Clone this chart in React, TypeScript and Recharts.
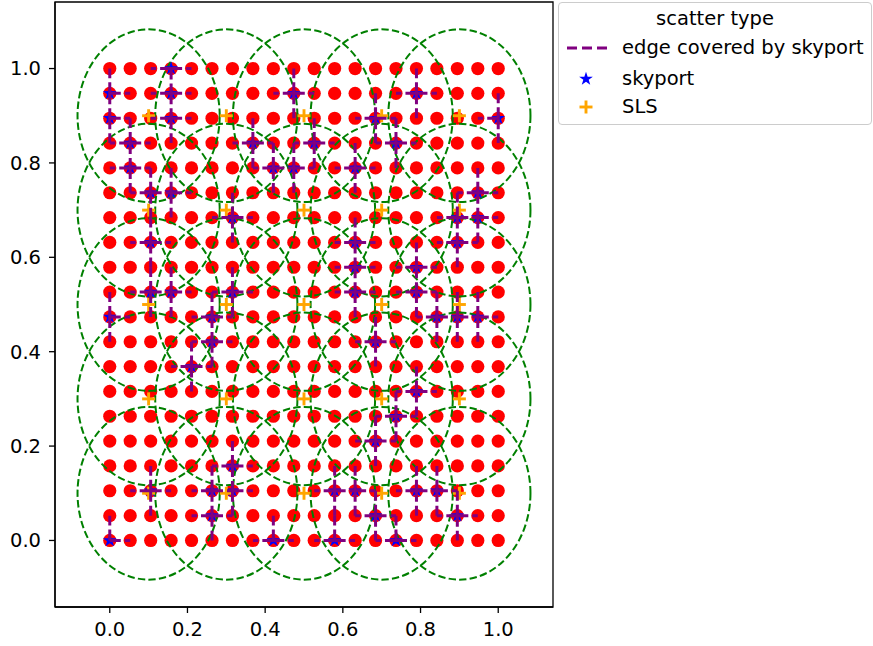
import React from 'react';
import { ScatterChart, Scatter, XAxis, YAxis, ReferenceArea } from 'recharts';

// 20 x 20 grid of demand nodes
const GRID = [
  0, 0.0526, 0.1053, 0.1579, 0.2105, 0.2632, 0.3158, 0.3684, 0.4211, 0.4737,
  0.5263, 0.5789, 0.6316, 0.6842, 0.7368, 0.7895, 0.8421, 0.8947, 0.9474, 1.0,
];

// SLS sites (also the centres of the dashed coverage circles)
const SLS_X = [0.1, 0.3, 0.5, 0.7, 0.9];
const SLS_Y = [0.1, 0.3, 0.5, 0.7, 0.9];
const COVER_RADIUS = 0.183;

// skyports as [column, row] indices into GRID
const SKYPORTS: [number, number][] = [
  [3, 19], [0, 18], [3, 18], [9, 18], [15, 18], [0, 17], [3, 17], [13, 17], [19, 17],
  [1, 16], [7, 16], [10, 16], [14, 16], [1, 15], [8, 15], [9, 15], [12, 15],
  [2, 14], [3, 14], [18, 14], [6, 13], [17, 13], [18, 13],
  [2, 12], [12, 12], [17, 12], [12, 11], [15, 11], [2, 10], [3, 10], [6, 10], [12, 10], [15, 10],
  [0, 9], [5, 9], [16, 9], [17, 9], [18, 9], [5, 8], [13, 8], [4, 7], [15, 6],
  [14, 5], [13, 4], [6, 3], [2, 2], [5, 2], [6, 2], [11, 2], [12, 2], [15, 2], [16, 2],
  [5, 1], [13, 1], [17, 1], [0, 0], [8, 0], [11, 0], [14, 0],
];

const X_TICKS = [0, 0.2, 0.4, 0.6, 0.8, 1.0];
const Y_TICKS = [0, 0.2, 0.4, 0.6, 0.8, 1.0];
const DOMAIN: [number, number] = [-0.141, 1.141];

const W = 873;
const H = 646;
const MARGIN = { top: 2, right: 320, bottom: 0, left: 0 };
const Y_AXIS_W = 55;
const X_AXIS_H = 39;
const PLOT_W = W - MARGIN.left - MARGIN.right - Y_AXIS_W;
const PLOT_H = H - MARGIN.top - MARGIN.bottom - X_AXIS_H;
const PX_PER_X = PLOT_W / (DOMAIN[1] - DOMAIN[0]);
const PX_PER_Y = PLOT_H / (DOMAIN[1] - DOMAIN[0]);

const FONT = '"DejaVu Sans", sans-serif';
const FS = 19.5;

const nodes = GRID.flatMap((y) => GRID.map((x) => ({ x, y })));
const slsPoints = SLS_Y.flatMap((y) => SLS_X.map((x) => ({ x, y })));
const skyportPoints = SKYPORTS.map(([i, j]) => ({ x: GRID[i], y: GRID[j] }));

// every grid edge touching a skyport: start point + offset to the other end
const edges = (() => {
  const seen = new Set<string>();
  const out: { x: number; y: number; dx: number; dy: number }[] = [];
  for (const [i, j] of SKYPORTS) {
    for (const [di, dj] of [[-1, 0], [1, 0], [0, -1], [0, 1]]) {
      const a = i + di;
      const b = j + dj;
      if (a < 0 || b < 0 || a >= GRID.length || b >= GRID.length) continue;
      const key = [`${i},${j}`, `${a},${b}`].sort().join('|');
      if (seen.has(key)) continue;
      seen.add(key);
      out.push({ x: GRID[i], y: GRID[j], dx: GRID[a] - GRID[i], dy: GRID[b] - GRID[j] });
    }
  }
  return out;
})();

const NodeDot = (p: any) => <circle cx={p.cx} cy={p.cy} r={6.6} fill="#ff0000" />;

const CoverCircle = (p: any) => (
  <ellipse
    cx={p.cx}
    cy={p.cy}
    rx={COVER_RADIUS * PX_PER_X}
    ry={COVER_RADIUS * PX_PER_Y}
    fill="none"
    stroke="#008000"
    strokeWidth={2}
    strokeDasharray="7.4 3.2"
  />
);

const starPts = (cx: number, cy: number, ro: number, ri: number) => {
  const pts: string[] = [];
  for (let k = 0; k < 10; k++) {
    const r = k % 2 === 0 ? ro : ri;
    const a = -Math.PI / 2 + (k * Math.PI) / 5;
    pts.push(`${cx + r * Math.cos(a)},${cy + r * Math.sin(a)}`);
  }
  return pts.join(' ');
};

const StarMark = (p: any) => <polygon points={starPts(p.cx, p.cy, 7.2, 2.8)} fill="#0000ff" />;

const PlusMark = (p: any) => (
  <g stroke="#ffa500" strokeWidth={2.9}>
    <line x1={p.cx - 6.5} y1={p.cy} x2={p.cx + 6.5} y2={p.cy} />
    <line x1={p.cx} y1={p.cy - 6.5} x2={p.cx} y2={p.cy + 6.5} />
  </g>
);

const EdgeMark = (p: any) => {
  const d = p.payload ?? {};
  return (
    <line
      x1={p.cx}
      y1={p.cy}
      x2={p.cx + (d.dx ?? 0) * PX_PER_X}
      y2={p.cy - (d.dy ?? 0) * PX_PER_Y}
      stroke="#800080"
      strokeWidth={3}
      strokeDasharray="11 4"
    />
  );
};

function LegendBox() {
  const row = (y: number) => ({ position: 'absolute' as const, left: 63, top: y - 12, lineHeight: '24px' });
  return (
    <div
      style={{
        position: 'absolute',
        left: 558,
        top: 2,
        width: 312,
        height: 121,
        border: '1px solid #cccccc',
        borderRadius: 4,
        background: 'rgba(255,255,255,0.8)',
        fontFamily: FONT,
        fontSize: FS,
        color: '#000',
      }}
    >
      <div style={{ position: 'absolute', left: 0, width: '100%', top: 4, textAlign: 'center', lineHeight: '24px' }}>
        scatter type
      </div>
      <svg width={60} height={121} style={{ position: 'absolute', left: 0, top: 0 }}>
        <line x1={8} y1={45} x2={48} y2={45} stroke="#800080" strokeWidth={3} strokeDasharray="10 5" />
        <polygon points={starPts(27, 76, 7.2, 2.8)} fill="#0000ff" />
        <g stroke="#ffa500" strokeWidth={2.9}>
          <line x1={20.5} y1={104} x2={33.5} y2={104} />
          <line x1={27} y1={97.5} x2={27} y2={110.5} />
        </g>
      </svg>
      <div style={row(45)}>edge covered by skyport</div>
      <div style={row(76)}>skyport</div>
      <div style={row(104)}>SLS</div>
    </div>
  );
}

export default function App() {
  return (
    <div style={{ position: 'absolute', left: 0, top: 0, width: W, height: H, background: '#fff', fontFamily: FONT }}>
      <ScatterChart width={W} height={H} margin={MARGIN}>
        <XAxis
          type="number"
          dataKey="x"
          domain={DOMAIN}
          ticks={X_TICKS}
          allowDataOverflow
          height={X_AXIS_H}
          tickSize={6}
          tickMargin={9}
          tickFormatter={(v: number) => v.toFixed(1)}
          tick={{ fontSize: FS, fill: '#000', fontFamily: FONT }}
          axisLine={{ stroke: '#000', strokeWidth: 1.3 }}
          tickLine={{ stroke: '#000', strokeWidth: 1.3 }}
        />
        <YAxis
          type="number"
          dataKey="y"
          domain={DOMAIN}
          ticks={Y_TICKS}
          allowDataOverflow
          width={Y_AXIS_W}
          tickSize={6}
          tickMargin={8}
          tickFormatter={(v: number) => v.toFixed(1)}
          tick={{ fontSize: FS, fill: '#000', fontFamily: FONT }}
          axisLine={{ stroke: '#000', strokeWidth: 1.3 }}
          tickLine={{ stroke: '#000', strokeWidth: 1.3 }}
        />
        <ReferenceArea
          x1={DOMAIN[0]}
          x2={DOMAIN[1]}
          y1={DOMAIN[0]}
          y2={DOMAIN[1]}
          fill="none"
          fillOpacity={0}
          stroke="#000"
          strokeWidth={1.3}
        />
        <Scatter data={nodes} shape={NodeDot} isAnimationActive={false} />
        <Scatter data={slsPoints} shape={CoverCircle} isAnimationActive={false} />
        <Scatter data={skyportPoints} shape={StarMark} isAnimationActive={false} />
        <Scatter data={slsPoints} shape={PlusMark} isAnimationActive={false} />
        <Scatter data={edges} shape={EdgeMark} isAnimationActive={false} />
      </ScatterChart>
      <LegendBox />
    </div>
  );
}
